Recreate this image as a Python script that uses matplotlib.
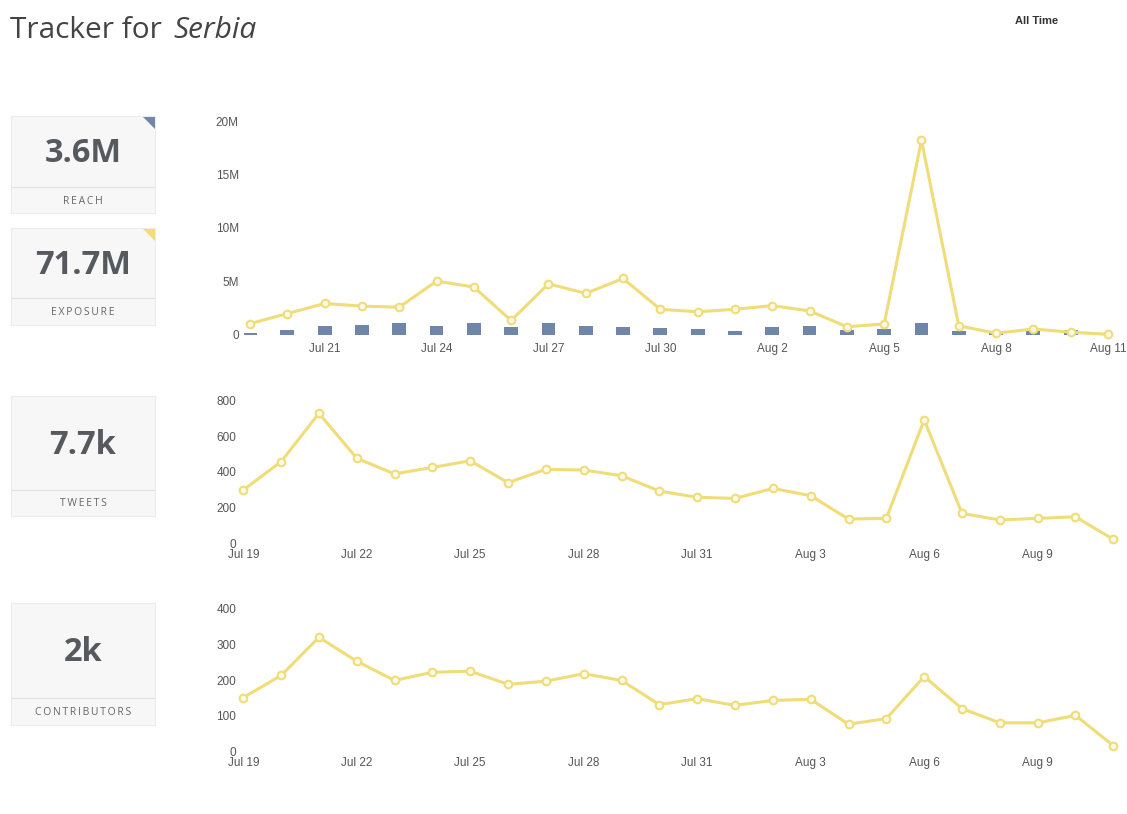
import matplotlib
matplotlib.use("Agg")
import matplotlib.pyplot as plt
import matplotlib.dates as mdates
from matplotlib.patches import Polygon
import pandas as pd

# data
dates = pd.date_range("2015-07-19", "2015-08-11")
reach_m = [0.19, 0.47, 0.85, 0.94, 1.13, 0.85, 1.13, 0.75, 1.13, 0.85, 0.75, 0.66,
           0.56, 0.38, 0.75, 0.85, 0.47, 0.56, 1.13, 0.38, 0.38, 0.56, 0.47, 0.0]
exposure_m = [1.0, 1.95, 2.9, 2.65, 2.55, 5.0, 4.45, 1.3, 4.75, 3.85, 5.25, 2.35,
              2.12, 2.35, 2.7, 2.2, 0.71, 0.97, 18.25, 0.8, 0.1, 0.5, 0.2, 0.0]
tweets = [299, 458, 729, 477, 389, 426, 463, 340, 415, 411, 379, 293,
          258, 252, 308, 267, 136, 140, 692, 168, 131, 140, 149, 22]
contributors = [151, 213, 320, 253, 199, 222, 225, 188, 197, 218, 199, 131,
                148, 129, 143, 146, 76, 92, 210, 120, 80, 80, 101, 16]

box_values = ["3.6M", "71.7M", "7.7k", "2k"]
box_labels = ["REACH", "EXPOSURE", "TWEETS", "CONTRIBUTORS"]

W, H = 1127, 814
YELLOW = "#f0dc78"
BLUE = "#6f86a9"
GREY = "#555555"
OPEN = ["Open Sans", "DejaVu Sans"]

plt.rcParams["font.family"] = ["Liberation Sans", "DejaVu Sans"]

fig = plt.figure(figsize=(W / 100, H / 100), dpi=100)
fig.patch.set_facecolor("white")


def box(px_left, px_top, px_right, px_bottom):
    return [px_left / W, 1 - px_bottom / H, (px_right - px_left) / W, (px_bottom - px_top) / H]


def style(ax, xpad, ypad):
    for s in ax.spines.values():
        s.set_visible(False)
    ax.tick_params(length=0, labelsize=8.5, labelcolor=GREY)
    ax.tick_params(axis="x", pad=xpad)
    ax.tick_params(axis="y", pad=ypad)
    ax.xaxis.set_major_formatter(mdates.DateFormatter("%b %-d"))
    half = pd.Timedelta(hours=3.6)
    ax.set_xlim(dates[0] - half, dates[-1] + half)


def line(ax, y):
    ax.plot(dates, y, color=YELLOW, lw=2.2, marker="o", ms=5.5,
            mfc="#fffbe8", mec=YELLOW, mew=1.5, zorder=3, clip_on=False)


# top chart: reach bars + exposure line
ax1 = fig.add_axes(box(244.4, 118.5, 1113.6, 337.5))
ax1.bar(dates, reach_m, width=0.37, bottom=-0.1, color=BLUE, zorder=2)
line(ax1, exposure_m)
ax1.set_ylim(-0.3, 20.3)
ax1.set_yticks([0, 5, 10, 15, 20])
ax1.set_yticklabels(["0", "5M", "10M", "15M", "20M"])
style(ax1, 4, 4)
ax1.set_xticks(dates[2::3])

# middle chart: tweets
ax2 = fig.add_axes(box(237.6, 397.1, 1119.0, 546.9))
line(ax2, tweets)
ax2.set_ylim(-20, 820)
ax2.set_yticks([0, 200, 400, 600, 800])
style(ax2, 1.5, 1)
ax2.set_xticks(dates[0::3])

# bottom chart: contributors
ax3 = fig.add_axes(box(237.6, 605.3, 1119.0, 754.9))
line(ax3, contributors)
ax3.set_ylim(-10, 410)
ax3.set_yticks([0, 100, 200, 300, 400])
style(ax3, 1.5, 1)
ax3.set_xticks(dates[0::3])

# stat boxes on the left
boxes = [(116, 213, 187), (228, 325, 298), (396, 516, 490), (603, 725, 698)]
corner = [BLUE, YELLOW, None, None]
for (top, bottom, div), val, lab, col in zip(boxes, box_values, box_labels, corner):
    bx = fig.add_axes(box(11, top, 155, bottom))
    bx.set_xlim(0, 144)
    bx.set_ylim(bottom - top, 0)
    bx.set_facecolor("#f7f7f7")
    for s in bx.spines.values():
        s.set_color("#ececec")
        s.set_linewidth(0.8)
    bx.set_xticks([])
    bx.set_yticks([])
    bx.axhline(div - top, color="#e2e2e2", lw=0.8)
    bx.text(72, (div - top) / 2 + 2, val, ha="center", va="center",
            fontsize=23.5, fontweight="bold", color="#56595d", family=OPEN)
    spaced = "\u2009".join(lab)
    bx.text(72, (div - top) + (bottom - div) / 2 + 1, spaced, ha="center", va="center",
            fontsize=7.5, color="#666666", family=OPEN)
    if col:
        bx.add_patch(Polygon([[132, 0], [144, 0], [144, 12]], closed=True, color=col))

# title and range text
t1 = fig.text(10 / W, 1 - 30 / H, "Tracker for", fontsize=21.5, color="#444444",
              family=OPEN, va="center")
fig.canvas.draw()
ext = t1.get_window_extent()
fig.text((ext.x1 + 12) / W, 1 - 30 / H, "Serbia", fontsize=21.5, color="#444444",
         style="italic", family=OPEN, va="center")
fig.text(1037 / W, 1 - 21 / H, "All Time", fontsize=8, fontweight="bold", color="#333333",
         ha="center", va="center")

fig.savefig("out.png", dpi=100, facecolor="white")
